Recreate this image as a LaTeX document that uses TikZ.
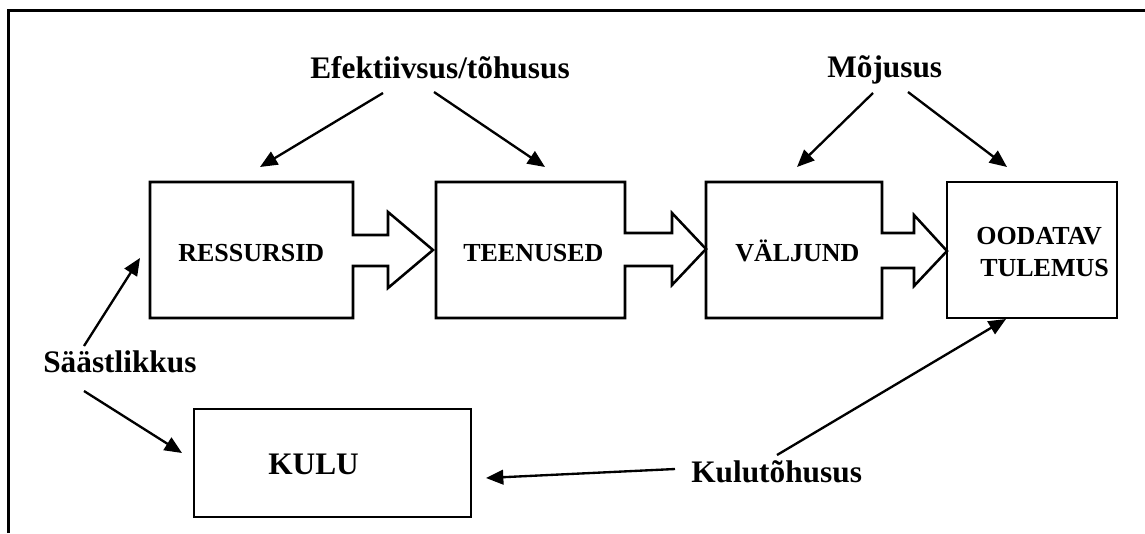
\documentclass[tikz,border=0pt]{standalone}
\usepackage{fontspec}
\setmainfont{Liberation Serif}
\usetikzlibrary{arrows.meta}
\begin{document}
\begin{tikzpicture}[x=0.75pt,y=-0.75pt,
  frame/.style={line width=2.25pt},
  flow/.style={line width=1.9pt, line join=miter},
  link/.style={line width=1.75pt, -{Triangle[length=13pt,width=11pt]}},
  big/.style={font=\bfseries\fontsize{23.5}{26}\selectfont, inner sep=0pt, anchor=base west},
  small/.style={font=\bfseries\fontsize{19.5}{24}\selectfont, inner sep=0pt, anchor=base west, align=left}]
\useasboundingbox (0,0) rectangle (1145,533);
% open frame: left and top sides only
\draw[frame] (8,533) -- (8,10.5) -- (1145,10.5);

% process chain: boxes joined by block arrows
\draw[flow] (150,182) -- (353,182) -- (353,235) -- (388,235) -- (388,212) -- (433,250)
  -- (388,288) -- (388,266) -- (353,266) -- (353,318) -- (150,318) -- cycle;
\draw[flow] (436,182) -- (625,182) -- (625,233) -- (672,233) -- (672,213) -- (706,249)
  -- (672,285) -- (672,266) -- (625,266) -- (625,318) -- (436,318) -- cycle;
\draw[flow] (706,182) -- (882,182) -- (882,233) -- (914,233) -- (914,215) -- (947,251)
  -- (914,286) -- (914,268) -- (882,268) -- (882,318) -- (706,318) -- cycle;
\draw[flow] (947,182) rectangle (1117,318);
\draw[flow] (194,409) rectangle (471,517);

% box labels
\node[small] (res) at (178,261) {RESSURSID};
\node[small] (teen) at (463,261) {TEENUSED};
\node[small] (val) at (735,261) {VÄLJUND};
\node[small] (ood) at (976,244) {OODATAV};
\node[small] (tul) at (980,276) {TULEMUS};
\node[big] (kulu) at (268,474) {KULU};

% measures
\node[big] (efk) at (310,78) {Efektiivsus/tõhusus};
\node[big] (moj) at (827,77) {Mõjusus};
\node[big] (saa) at (43,372) {Säästlikkus};
\node[big] (kt) at (691,482) {Kulutõhusus};

% arrow ends
\coordinate (efkL) at (383,93);  \coordinate (resT) at (260,167);
\coordinate (efkR) at (434,92);  \coordinate (teenT) at (545,167);
\coordinate (mojL) at (873,93);  \coordinate (valT) at (797,167);
\coordinate (mojR) at (908,92);  \coordinate (oodT) at (1007,167);
\coordinate (saaU) at (84,346);  \coordinate (resL) at (140,258);
\coordinate (saaD) at (84,391);  \coordinate (kuluL) at (182,453);
\coordinate (ktU) at (777,455);  \coordinate (tulB) at (1006,319);
\coordinate (ktL) at (675,469);  \coordinate (kuluR) at (486,478);

\draw[link] (efkL) -- (resT);
\draw[link] (efkR) -- (teenT);
\draw[link] (mojL) -- (valT);
\draw[link] (mojR) -- (oodT);
\draw[link] (saaU) -- (resL);
\draw[link] (saaD) -- (kuluL);
\draw[link] (ktU) -- (tulB);
\draw[link] (ktL) -- (kuluR);
\end{tikzpicture}
\end{document}
